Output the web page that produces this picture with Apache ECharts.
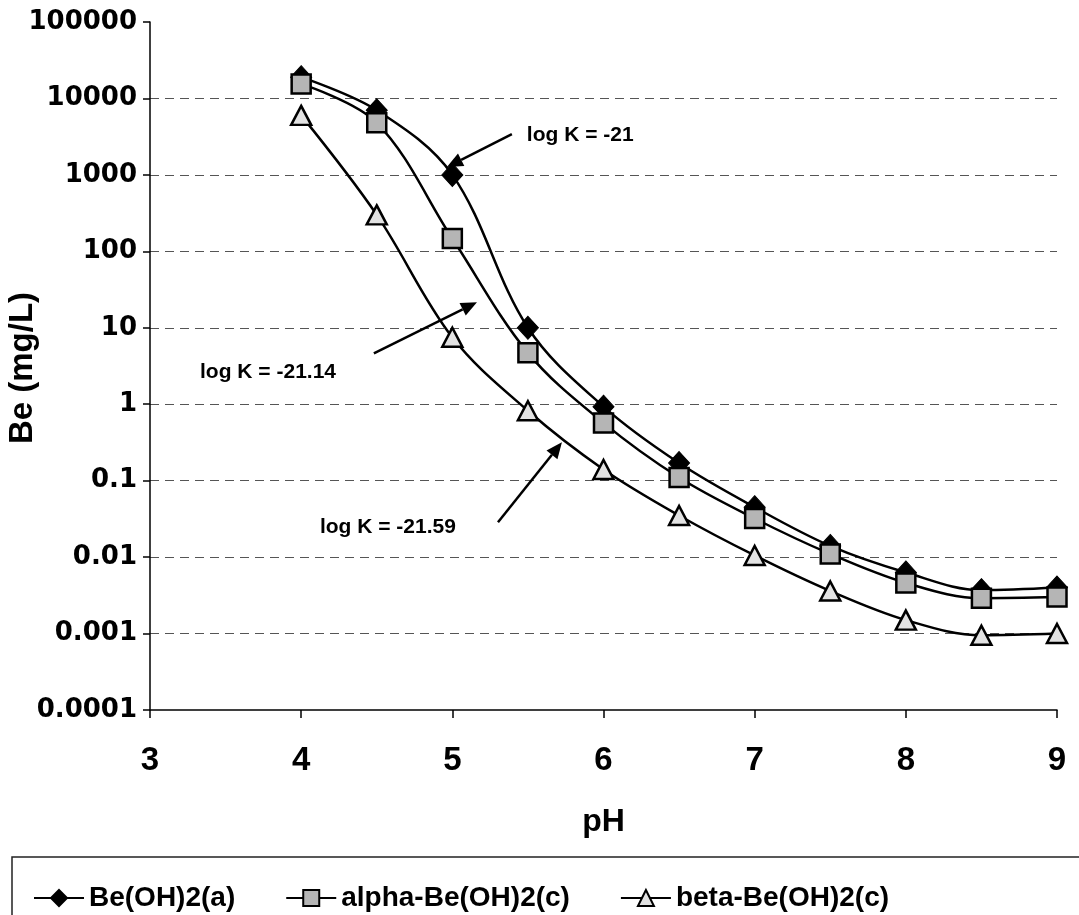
<!DOCTYPE html>
<html>
<head>
<meta charset="utf-8">
<script src="https://cdn.jsdelivr.net/npm/echarts@6/dist/echarts.min.js"></script>
<style>
html,body{margin:0;padding:0;background:#fff;}
#chart{width:1079px;height:915px;}
</style>
</head>
<body>
<div id="chart"></div>
<script>
// ---- data ----
const phValues = [4, 4.5, 5, 5.5, 6, 6.5, 7, 7.5, 8, 8.5, 9];
const beOH2a = [19000, 7000, 1000, 10, 0.93, 0.17, 0.045, 0.014, 0.0063, 0.0037, 0.004];
const alphaBeOH2c = [15500, 4800, 147, 4.7, 0.57, 0.11, 0.032, 0.011, 0.0046, 0.0029, 0.003];
const betaBeOH2c = [6000, 300, 7.5, 0.82, 0.14, 0.035, 0.0105, 0.0036, 0.0015, 0.00095, 0.001];
const seriesNames = ['Be(OH)2(a)', 'alpha-Be(OH)2(c)', 'beta-Be(OH)2(c)'];
const xTickLabels = ['3', '4', '5', '6', '7', '8', '9'];
const yTickLabels = ['0.0001', '0.001', '0.01', '0.1', '1', '10', '100', '1000', '10000', '100000'];
const yAxisTitle = 'Be (mg/L)';
// annotations: text anchor (left, middle) and arrow start/tip in data units [pH, Be]
const annoTexts = ['log K = -21', 'log K = -21.14', 'log K = -21.59'];
const annoTextAt = [[5.493, 3320], [3.331, 2.62], [4.124, 0.0245]];
const annoFrom = [[5.394, 3420], [4.481, 4.64], [5.302, 0.0285]];
const annoTo = [[4.964, 1265], [5.163, 21.6], [5.725, 0.318]];

const pair = (xs, ys) => xs.map((x, i) => [x, ys[i]]);

const chart = echarts.init(document.getElementById('chart'), null, {renderer: 'canvas'});
const boldFont = '"Liberation Sans", Arial, sans-serif';

const option = {
  animation: false,
  backgroundColor: '#ffffff',
  grid: {left: 150, right: 22, top: 22, bottom: 205, containLabel: false, outerBoundsMode: 'none'},
  xAxis: {
    type: 'value', min: 3, max: 9, interval: 1,
    name: 'pH', nameLocation: 'middle', nameGap: 96,
    nameTextStyle: {fontFamily: boldFont, fontWeight: 'bold', fontSize: 32, color: '#000'},
    axisLine: {show: true, lineStyle: {color: '#000', width: 1.5}},
    axisTick: {show: true, length: 8, lineStyle: {color: '#000', width: 1.5}},
    axisLabel: {
      margin: 34, color: '#000', fontFamily: boldFont, fontWeight: 'bold', fontSize: 33,
      formatter: v => xTickLabels[Math.round(v) - 3]
    },
    splitLine: {show: false}
  },
  yAxis: {
    type: 'log', logBase: 10, min: 0.0001, max: 100000, interval: 1,
    axisLine: {show: true, lineStyle: {color: '#000', width: 1.5}},
    axisTick: {show: true, length: 7, lineStyle: {color: '#000', width: 1.5}},
    axisLabel: {
      margin: 13, color: '#000', fontFamily: '"DejaVu Sans", sans-serif', fontWeight: 'bold', fontSize: 26,
      formatter: v => yTickLabels[Math.round(Math.log10(v)) + 4]
    },
    splitLine: {show: true, showMaxLine: false, showMinLine: false,
      lineStyle: {color: '#555', width: 1.2, type: [9, 6]}}
  },
  legend: {
    left: 28, top: 879, itemGap: 50, itemWidth: 50, itemHeight: 20,
    textStyle: {fontFamily: boldFont, fontWeight: 'bold', fontSize: 28, color: '#000'},
    data: seriesNames
  },
  series: [
    {
      name: seriesNames[0], type: 'line', smooth: 0.35,
      data: pair(phValues, beOH2a),
      symbol: 'diamond', symbolSize: [21, 23],
      lineStyle: {color: '#000', width: 2.5},
      itemStyle: {color: '#000', borderColor: '#000', borderWidth: 1}
    },
    {
      name: seriesNames[1], type: 'line', smooth: 0.35,
      data: pair(phValues, alphaBeOH2c),
      symbol: 'rect', symbolSize: 19,
      lineStyle: {color: '#000', width: 2.5},
      itemStyle: {color: '#b5b5b5', borderColor: '#000', borderWidth: 2.5}
    },
    {
      name: seriesNames[2], type: 'line', smooth: 0.35,
      data: pair(phValues, betaBeOH2c),
      symbol: 'triangle', symbolSize: [20, 19],
      lineStyle: {color: '#000', width: 2.5},
      itemStyle: {color: '#e2e2e2', borderColor: '#000', borderWidth: 2.5}
    }
  ]
};
chart.setOption(option);

// annotations (arrows + text) positioned through the axes
function buildAnnotations() {
  const els = [];
  // legend box
  els.push({type: 'rect', shape: {x: 12, y: 857, width: 1100, height: 200},
    style: {fill: 'none', stroke: '#222', lineWidth: 1.5}, silent: true, z: 0});
  // y axis title
  els.push({type: 'text', x: 23, y: 368, rotation: Math.PI / 2, z: 100,
    style: {text: yAxisTitle, fill: '#000', font: 'bold 33px "Liberation Sans", Arial, sans-serif',
      textAlign: 'center', textVerticalAlign: 'middle'}});
  annoTexts.forEach((t, i) => {
    const tp = chart.convertToPixel({gridIndex: 0}, annoTextAt[i]);
    const a = chart.convertToPixel({gridIndex: 0}, annoFrom[i]);
    const b = chart.convertToPixel({gridIndex: 0}, annoTo[i]);
    const dx = b[0] - a[0], dy = b[1] - a[1];
    const len = Math.hypot(dx, dy);
    const ux = dx / len, uy = dy / len;
    const hl = 16, hw = 7;
    const bx = b[0] - ux * hl, by = b[1] - uy * hl;
    els.push({type: 'line', shape: {x1: a[0], y1: a[1], x2: bx, y2: by},
      style: {stroke: '#000', lineWidth: 2.5}, z: 100});
    els.push({type: 'polygon', shape: {points: [
      [b[0], b[1]], [bx - uy * hw, by + ux * hw], [bx + uy * hw, by - ux * hw]]},
      style: {fill: '#000'}, z: 100});
    els.push({type: 'text', x: tp[0], y: tp[1], z: 100,
      style: {text: t, fill: '#000', font: 'bold 21px "Liberation Sans", Arial, sans-serif',
        textAlign: 'left', textVerticalAlign: 'middle'}});
  });
  chart.setOption({graphic: els});
}
buildAnnotations();
</script>
</body>
</html>
